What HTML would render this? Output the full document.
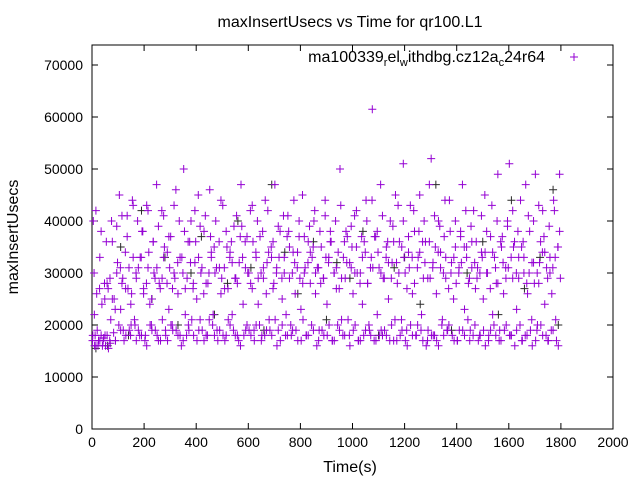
<!DOCTYPE html>
<html><head><meta charset="utf-8"><style>
body{margin:0;background:#fff;}
svg{display:block;font-family:"Liberation Sans",sans-serif;}
</style></head><body>
<svg id="chart" width="640" height="480">
<rect width="640" height="480" fill="#fff"/>
<text x="350" y="27" font-size="16" text-anchor="middle">maxInsertUsecs vs Time for qr100.L1</text>
<text x="350" y="472" font-size="16" text-anchor="middle">Time(s)</text>
<text transform="translate(18,237) rotate(-90)" font-size="16" text-anchor="middle">maxInsertUsecs</text>
<g id="axes"></g>
<g id="marks"></g>
<g>
<text x="545" y="62" font-size="16" text-anchor="end">ma100339<tspan font-size="11" dy="4">r</tspan><tspan dy="-4">el</tspan><tspan font-size="11" dy="4">w</tspan><tspan dy="-4">ithdbg.cz12a</tspan><tspan font-size="11" dy="4">c</tspan><tspan dy="-4">24r64</tspan></text>
<path d="M570,57h8M574,53v8" stroke="#9400d3" stroke-width="1"/>
</g>
</svg>
<script>
const xTicks=[0,200,400,600,800,1000,1200,1400,1600,1800,2000];
const yTicks=[0,10000,20000,30000,40000,50000,60000,70000];
const timesA=[2,5,8,12,15,20,25,30,35,40,45,48,52,58,62,68,72,78,85,90,95,105,110,115,120,128,135,142,148,152,158,165,170,178,185,192,198,205,210,215,222,228,235,242,248,255,262,268,275,282,288,295,302,308,315,322,330,338,345,352,358,365,372,380,388,395,402,408,415,422,430,438,445,452,458,465,472,480,488,495,502,508,515,522,530,538,545,552,558,565,572,580,588,595,602,608,615,622,630,638,645,652,658,665,672,680,688,695,702,708,715,722,730,738,745,752,758,765,772,780,788,795,802,808,815,822,830,838,845,852,858,865,872,880,888,895,902,908,915,922,930,938,945,952,958,965,972,980,988,995,1002,1008,1015,1022,1030,1038,1045,1052,1058,1065,1072,1076,1085,1095,1102,1108,1115,1122,1130,1138,1145,1152,1158,1165,1172,1180,1188,1195,1202,1208,1215,1222,1230,1238,1245,1252,1258,1265,1272,1280,1288,1295,1302,1308,1315,1322,1330,1338,1345,1352,1358,1365,1372,1380,1388,1395,1402,1408,1415,1422,1430,1438,1445,1452,1458,1465,1472,1480,1488,1495,1502,1508,1515,1522,1530,1538,1545,1552,1558,1565,1572,1580,1588,1595,1602,1608,1615,1622,1630,1638,1645,1652,1658,1665,1672,1680,1688,1695,1702,1708,1715,1722,1730,1738,1745,1752,1758,1765,1772,1780,1788,1795];
const valuesA=[17,40,30,18,16,19,17,33,18,16,17.5,28,16,18,27,17,21,36,25,17,30,45,23,28,19,34,41,31,18,26,43,20,29,19,33,38,27,18,43,31,24,20,36,29,47,17,27,42,33,19,28,23,37,20,30,46,26,18,33,50,22,29,19,40,27,32,25,45,21,31,38,18,28,46,33,22,30,19,36,26,43,31,18,27,34,22,39,29,18,32,47,24,36,20,30,42,27,19,33,24,37,18,29,44,32,21,35,27,47,30,19,38,25,33,22,41,29,18,34,26,31,37,23,45,30,18,36,28,33,40,26,31,19,35,29,44,24,32,38,17,30,27,34,50,21,33,29,37,18,31,26,41,35,17,30,24,36,44,28,19,33,61.5,37,22,31,47,18,29,35,25,40,32,17,45,28,36,21,51,30,19,34,43,26,38,18,33,45,22,29,36,17,47,52,31,18,26,40,34,21,37,29,19,44,32,25,35,17,30,38,47,23,33,28,19,36,42,27,31,18,34,25,45,30,17,37,22,33,28,49,19,35,26,31,40,51,18,29,36,23,33,44,17,30,47,26,38,21,32,49,19,28,36,42,24,31,17,33,26,44,21,35,49];
const timesB=[10,30,50,70,90,110,130,150,170,190,210,230,250,270,290,310,330,350,370,390,410,430,450,470,490,510,530,550,570,590,610,630,650,670,690,710,730,750,770,790,810,830,850,870,890,910,930,950,970,990,1010,1030,1050,1070,1090,1110,1130,1150,1170,1190,1210,1230,1250,1270,1290,1310,1330,1350,1370,1390,1410,1430,1450,1470,1490,1510,1530,1550,1570,1590,1610,1630,1650,1670,1690,1710,1730,1750,1770,1790];
const valuesBLow=[16,17,18,16.5,17,19,18,20,17,18,16,19,18,21,17,19,18,17,20,18,19,17,21,18,19,17,20,18,16,19,18,20,17,19,18,16,20,18,19,17,21,18,19,17,18,20,17,19,18,16,20,17,19,18,17,19,18,20,17,19,16,18,20,17,19,18,16,18,20,17,19,18,17,20,18,16,19,18,17,20,18,19,17,18,16,20,18,17,19,16];
const valuesBMid=[26,24,28,25,32,29,27,33,31,26,34,30,28,35,31,29,33,27,32,36,30,28,34,31,29,35,32,28,33,30,36,29,31,34,28,33,30,35,32,29,31,34,30,28,33,36,31,29,32,35,30,33,28,31,34,29,32,36,30,33,31,28,34,32,29,35,31,33,30,28,32,35,31,29,33,30,34,28,32,31,35,29,33,30,28,32,34,30,33,29];
const timesC=[3,23,43,63,83,103,123,143,163,183,203,223,243,263,283,303,323,343,363,383,403,423,443,463,483,503,523,543,563,583,603,623,643,663,683,703,723,743,763,783,803,823,843,863,883,903,923,943,963,983,1003,1023,1043,1063,1083,1103,1123,1143,1163,1183,1203,1223,1243,1263,1283,1303,1323,1343,1363,1383,1403,1423,1443,1463,1483,1503,1523,1543,1563,1583,1603,1623,1643,1663,1683,1703,1723,1743,1763,1783];
const valuesCLow=[18,16,17,15.5,18.5,20,17,19,21,18,17,20,19,17,18,20,19,16,18,21,17,19,18,20,17,18,21,19,17,18,19,17,20,18,19,21,17,18,20,19,17,18,20,16,19,18,17,20,18,21,19,17,18,20,17,18,19,17,21,18,17,20,18,19,16,18,17,20,19,18,17,19,21,18,17,19,18,20,17,19,18,16,20,18,19,17,20,18,19,17];
const valuesCMid=[22,27,25,29,23,31,27,24,30,33,28,25,31,29,34,27,32,30,36,28,33,26,30,35,31,27,33,29,37,31,28,34,30,26,33,31,29,37,30,34,28,32,35,31,29,33,30,27,36,32,30,28,34,31,37,30,33,29,32,35,27,33,31,36,29,32,34,30,27,33,31,35,29,32,30,34,27,31,36,29,33,30,35,28,32,30,34,29,31,35];
const valuesCHigh=[42,38,36,40,39,41,37,44,40,38,42,36,39,41,37,43,40,38,36,42,39,41,37,40,44,38,36,41,39,37,43,40,38,42,36,39,41,38,44,40,37,39,42,38,41,36,40,43,38,39,42,37,40,44,38,41,36,39,43,40,37,42,38,40,36,41,39,44,38,40,37,42,39,36,41,38,43,40,37,39,42,38,36,41,40,43,37,39,42,38];
const timesK=[15,60,110,140,190,230,280,330,380,420,470,520,560,610,660,690,740,790,850,900,940,990,1040,1100,1160,1200,1260,1320,1380,1440,1500,1560,1610,1660,1720,1770,1790];
const valuesK=[15.5,16,35,18,42,25,33,20,30,37,22,28,40,31,19,47,34,26,36,21,32,29,38,18,31,33,24,47,19,30,36,22,44,27,33,46,20];

const L=92,R=613,T=45,B=429;
const xs=v=>L+(v/2000)*(R-L);
const ys=v=>B-(v/70000)*(B-65);
const NS="http://www.w3.org/2000/svg";
const axes=document.getElementById('axes');
const marks=document.getElementById('marks');
function mk(tag,attrs,parent){const e=document.createElementNS(NS,tag);for(const k in attrs)e.setAttribute(k,attrs[k]);parent.appendChild(e);return e;}
const frame=mk('rect',{x:L,y:T,width:R-L,height:B-T,fill:'none',stroke:'#000','stroke-width':1},axes);


xTicks.forEach(t=>{const x=xs(t);
 const p=mk('path',{d:`M${x},${B}v-6M${x},${T}v6`,stroke:'#000'},axes);
 
 
 const tx=mk('text',{x:x,y:B+18,'font-size':14,'text-anchor':'middle'},axes);tx.textContent=t;
 
 });
yTicks.forEach(t=>{const y=ys(t);
 const p=mk('path',{d:`M${L},${y}h6M${R},${y}h-6`,stroke:'#000'},axes);
 
 
 const tx=mk('text',{x:L-9,y:y+5,'font-size':14,'text-anchor':'end'},axes);tx.textContent=t;
 
 });
function plus(t,v,color){const x=xs(t),y=ys(v*1000);
 const p=mk('path',{d:`M${x-4},${y}h8M${x},${y-4}v8`,stroke:color,'stroke-width':1},marks);
 
 }
timesK.forEach((t,i)=>plus(t,valuesK[i],'#2a2a2a'));
timesA.forEach((t,i)=>plus(t,valuesA[i],'#9400d3'));
timesB.forEach((t,i)=>plus(t,valuesBLow[i],'#9400d3'));
timesB.forEach((t,i)=>plus(t+8,valuesBMid[i],'#9400d3'));
timesC.forEach((t,i)=>plus(t,valuesCLow[i],'#9400d3'));
timesC.forEach((t,i)=>plus(t+6,valuesCMid[i],'#9400d3'));
timesC.forEach((t,i)=>plus(t+12,valuesCHigh[i],'#9400d3'));
</script>
</body></html>
